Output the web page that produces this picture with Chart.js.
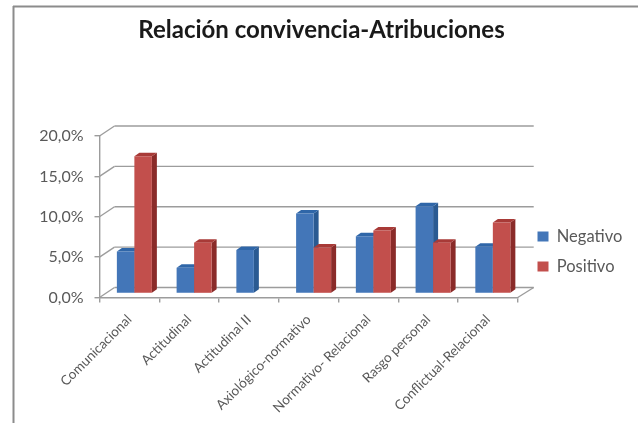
<!DOCTYPE html>
<html>
<head>
<meta charset="utf-8">
<style>
  html, body { margin: 0; padding: 0; background: #fff; }
  canvas { display: block; }
</style>
<script src="https://cdn.jsdelivr.net/npm/chart.js@4"></script>
</head>
<body>
<canvas id="chart" width="638" height="423"></canvas>
<script>
const categories = ["Comunicacional", "Actitudinal", "Actitudinal II", "Axiológico-normativo", "Normativo- Relacional", "Rasgo personal", "Conflictual-Relacional"];
const negativo = [5.2, 3.2, 5.4, 9.9, 7.1, 10.8, 5.8];
const positivo = [17.0, 6.3, null, 5.7, 7.8, 6.3, 8.8];

const gridColor = "#9c9c9c";
const wall = { dx: 15, dy: -10 };
const bar3d = { shiftX: 5, shiftY: -4, dx: 5, dy: -3.5 };
const faces = [
  { side: "#2a5a92", top: "#2f66a8" },
  { side: "#8a2b29", top: "#a83a37" },
];

function line(ctx, x1, y1, x2, y2) {
  ctx.beginPath();
  ctx.moveTo(x1, y1);
  ctx.lineTo(x2, y2);
  ctx.stroke();
}

function drawFaces(chart, index) {
  const ctx = chart.ctx;
  const colors = faces[index];
  chart.getDatasetMeta(index).data.forEach((bar, i) => {
    if (chart.data.datasets[index].data[i] === null) return;
    const p = bar.getProps(["x", "y", "base", "width"], true);
    const l = p.x - p.width / 2;
    const r = p.x + p.width / 2;
    ctx.fillStyle = colors.side;
    ctx.beginPath();
    ctx.moveTo(r, p.y);
    ctx.lineTo(r + bar3d.dx, p.y + bar3d.dy);
    ctx.lineTo(r + bar3d.dx, p.base + bar3d.dy);
    ctx.lineTo(r, p.base);
    ctx.closePath();
    ctx.fill();
    ctx.fillStyle = colors.top;
    ctx.beginPath();
    ctx.moveTo(l, p.y);
    ctx.lineTo(l + bar3d.dx, p.y + bar3d.dy);
    ctx.lineTo(r + bar3d.dx, p.y + bar3d.dy);
    ctx.lineTo(r, p.y);
    ctx.closePath();
    ctx.fill();
  });
}

const frame3d = {
  id: "frame3d",
  afterLayout(chart) {
    // the legend sits lower than the centre of the canvas
    chart.legend.left = 524;
    chart.legend.top += 40;
    chart.legend.bottom += 40;
    chart.titleBlock.left += 8.5;
    chart.titleBlock.right += 8.5;
  },
  beforeDraw(chart) {
    const ctx = chart.ctx;
    const { left, right } = chart.chartArea;
    const y = chart.scales.y;
    ctx.save();
    ctx.strokeStyle = "#8c8c8c";
    ctx.lineWidth = 2;
    line(ctx, 13, 6.5, 638, 6.5);
    line(ctx, 13.5, 6, 13.5, 423);
    ctx.strokeStyle = gridColor;
    ctx.lineWidth = 1.4;
    y.ticks.forEach((t) => {
      const py = y.getPixelForValue(t.value);
      line(ctx, left, py, left + wall.dx, py + wall.dy);
      line(ctx, left + wall.dx, py + wall.dy, right + wall.dx + 1, py + wall.dy);
    });
    const y0 = y.getPixelForValue(0);
    line(ctx, right, y0, right + wall.dx + 1, y0 + wall.dy);
    ctx.restore();
  },
  beforeDatasetsDraw(chart) {
    chart.ctx.save();
    chart.ctx.translate(bar3d.shiftX, bar3d.shiftY);
  },
  beforeDatasetDraw(chart, args) {
    // Positivo has to cover the side of Negativo, so it is drawn last
    if (args.index === 1) return false;
    drawFaces(chart, 0);
  },
  afterDatasetDraw(chart, args) {
    if (args.index !== 0) return;
    drawFaces(chart, 1);
    chart.getDatasetMeta(1).controller.draw();
  },
  afterDatasetsDraw(chart) {
    chart.ctx.restore();
  },
};

const config = {
  type: "bar",
  data: {
    labels: categories,
    datasets: [
      { label: "Negativo", data: negativo, backgroundColor: "#4376b8" },
      { label: "Positivo", data: positivo, backgroundColor: "#c24f4c" },
    ],
  },
  options: {
    responsive: false,
    animation: false,
    categoryPercentage: 0.586,
    barPercentage: 1,
    layout: { padding: { right: 12 } },
    plugins: {
      tooltip: { enabled: false },
      title: {
        display: true,
        text: "Relación convivencia-Atribuciones",
        color: "#1a1a1a",
        font: { family: "Lato", size: 24, weight: "bold" },
        padding: { top: 16, bottom: 91.2 },
      },
      legend: {
        position: "right",
        labels: {
          boxWidth: 11,
          boxHeight: 10,
          padding: 13.5,
          color: "#595959",
          font: { family: "Lato", size: 16.5 },
        },
      },
    },
    scales: {
      x: {
        afterFit: (scale) => { scale.height = 125.5; },
        grid: { offset: true, drawOnChartArea: false, color: gridColor, tickLength: 5, lineWidth: 1.4 },
        border: { color: gridColor, width: 1.4 },
        ticks: {
          minRotation: 45,
          maxRotation: 45,
          autoSkip: false,
          padding: 9,
          color: "#595959",
          font: { family: "Lato", size: 13.5 },
        },
      },
      y: {
        min: 0,
        max: 20,
        afterFit: (scale) => { scale.width = 99.5; },
        grid: { drawOnChartArea: false, color: gridColor, tickLength: 5, lineWidth: 1.4 },
        border: { color: gridColor, width: 1.4 },
        ticks: {
          stepSize: 5,
          padding: 11,
          color: "#595959",
          font: { family: "Lato", size: 16 },
          callback: (v) => v.toFixed(1).replace(".", ",") + "%",
        },
      },
    },
  },
  plugins: [frame3d],
};

new Chart(document.getElementById("chart"), config);
</script>
</body>
</html>
